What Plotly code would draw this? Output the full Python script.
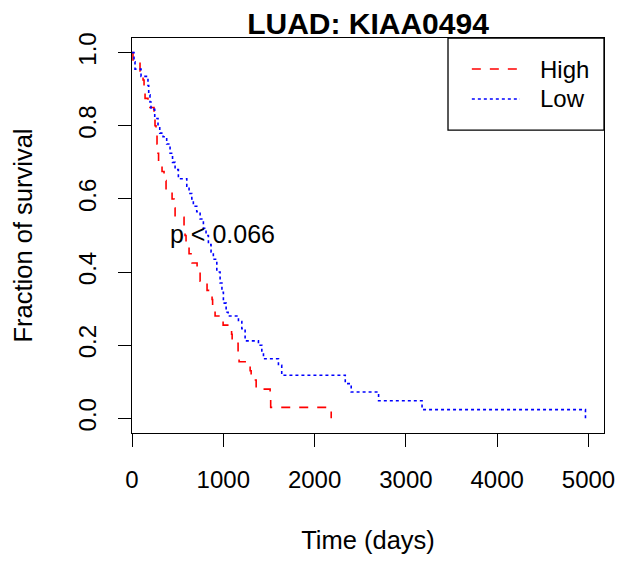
import plotly.graph_objects as go

# Kaplan-Meier step points (days, fraction surviving)
high_days = [0, 11, 88, 121, 132, 143, 175, 241, 252, 263, 274, 285, 291, 329, 351, 373,
             439, 461, 472, 570, 581, 592, 625, 658, 713, 746, 822, 877, 883, 910, 998,
             1091, 1097, 1162, 1173, 1294, 1305, 1360, 1513, 1519, 2182]
high_surv = [1.0, 0.975, 0.95, 0.925, 0.90, 0.875, 0.85, 0.825, 0.80, 0.775, 0.75, 0.725,
             0.70, 0.675, 0.65, 0.625, 0.60, 0.575, 0.55, 0.525, 0.50, 0.475, 0.45, 0.425,
             0.40, 0.375, 0.35, 0.325, 0.30, 0.28, 0.255, 0.23, 0.205, 0.18, 0.155, 0.13,
             0.105, 0.08, 0.055, 0.03, 0.0]

low_days = [0, 22, 33, 99, 175, 183, 197, 208, 249, 285, 304, 340, 380, 417, 444, 472, 508,
            600, 625, 655, 672, 709, 746, 782, 811, 837, 866, 891, 929, 965, 985, 1001, 1031,
            1053, 1166, 1203, 1239, 1385, 1422, 1440, 1604, 1640, 2336, 2401, 2701, 3177, 4967]
low_surv = [1.0, 0.975, 0.955, 0.935, 0.91, 0.885, 0.865, 0.845, 0.82, 0.80, 0.78, 0.77,
            0.75, 0.725, 0.70, 0.68, 0.655, 0.635, 0.615, 0.60, 0.58, 0.565, 0.545, 0.52,
            0.50, 0.475, 0.455, 0.435, 0.40, 0.37, 0.345, 0.315, 0.29, 0.28, 0.265, 0.245,
            0.212, 0.20, 0.18, 0.163, 0.145, 0.118, 0.095, 0.072, 0.048, 0.024, 0.0]

x_ticks = [0, 1000, 2000, 3000, 4000, 5000]
y_ticks = [0.0, 0.2, 0.4, 0.6, 0.8, 1.0]
y_tick_text = ["0.0", "0.2", "0.4", "0.6", "0.8", "1.0"]

FONT = "Liberation Sans, Arial, Helvetica, sans-serif"

fig = go.Figure()
fig.add_trace(go.Scatter(x=high_days, y=high_surv, mode="lines", line_shape="hv",
                         line=dict(color="#ff0000", width=1.6, dash="dash"), name="High"))
fig.add_trace(go.Scatter(x=low_days, y=low_surv, mode="lines", line_shape="hv",
                         line=dict(color="#0000ff", width=1.6, dash="dot"), name="Low"))

# p-value label
fig.add_annotation(x=987, y=0.505, text="p < 0.066", showarrow=False,
                   font=dict(size=25, color="black", family=FONT))

# hand-drawn legend box, R style
fig.add_shape(type="rect", xref="paper", yref="paper", x0=0.6695, x1=1.0, y0=0.767, y1=1.0,
              line=dict(color="black", width=1.3), fillcolor="white", layer="above")
fig.add_shape(type="line", xref="paper", yref="paper", x0=0.72, x1=0.822, y0=0.9215, y1=0.9215,
              line=dict(color="#ff0000", width=1.6, dash="dash"))
fig.add_shape(type="line", xref="paper", yref="paper", x0=0.72, x1=0.822, y0=0.8456, y1=0.8456,
              line=dict(color="#0000ff", width=1.6, dash="dot"))
for label, ypos in [("High", 0.9215), ("Low", 0.8456)]:
    fig.add_annotation(xref="paper", yref="paper", x=0.86, y=ypos, text=label,
                       showarrow=False, xanchor="left", yanchor="middle",
                       font=dict(size=24, color="black", family=FONT))

# the page body adds an 8px offset, so the figure is drawn 8px smaller
fig.update_layout(
    width=622, height=553,
    margin=dict(l=124, r=26, t=30, b=128),
    paper_bgcolor="white", plot_bgcolor="white",
    showlegend=False,
    font=dict(family=FONT, size=24, color="black"),
    title=dict(text="<b>LUAD: KIAA0494</b>", xref="paper", x=0.5, xanchor="center",
               y=0.972, yanchor="middle",
               font=dict(size=30, family=FONT, color="black")),
)
fig.update_xaxes(range=[0, 5170], tickvals=x_ticks, ticks="outside", ticklen=13, tickwidth=1.3,
                 tickcolor="black", showline=True, linecolor="black", linewidth=1.3, mirror=True,
                 showgrid=False, zeroline=False, ticklabelstandoff=12, automargin=False,
                 title=dict(text="Time (days)", standoff=39, font=dict(size=25.5)))
fig.update_yaxes(range=[-0.04, 1.04], tickvals=y_ticks, ticktext=y_tick_text, tickangle=-90,
                 ticks="outside", ticklen=13, tickwidth=1.3, tickcolor="black", showline=True,
                 linecolor="black", linewidth=1.3, mirror=True, showgrid=False, zeroline=False,
                 ticklabelstandoff=12, automargin=False,
                 title=dict(text="Fraction of survival", standoff=34, font=dict(size=25.5)))

fig.write_html("out.html")
